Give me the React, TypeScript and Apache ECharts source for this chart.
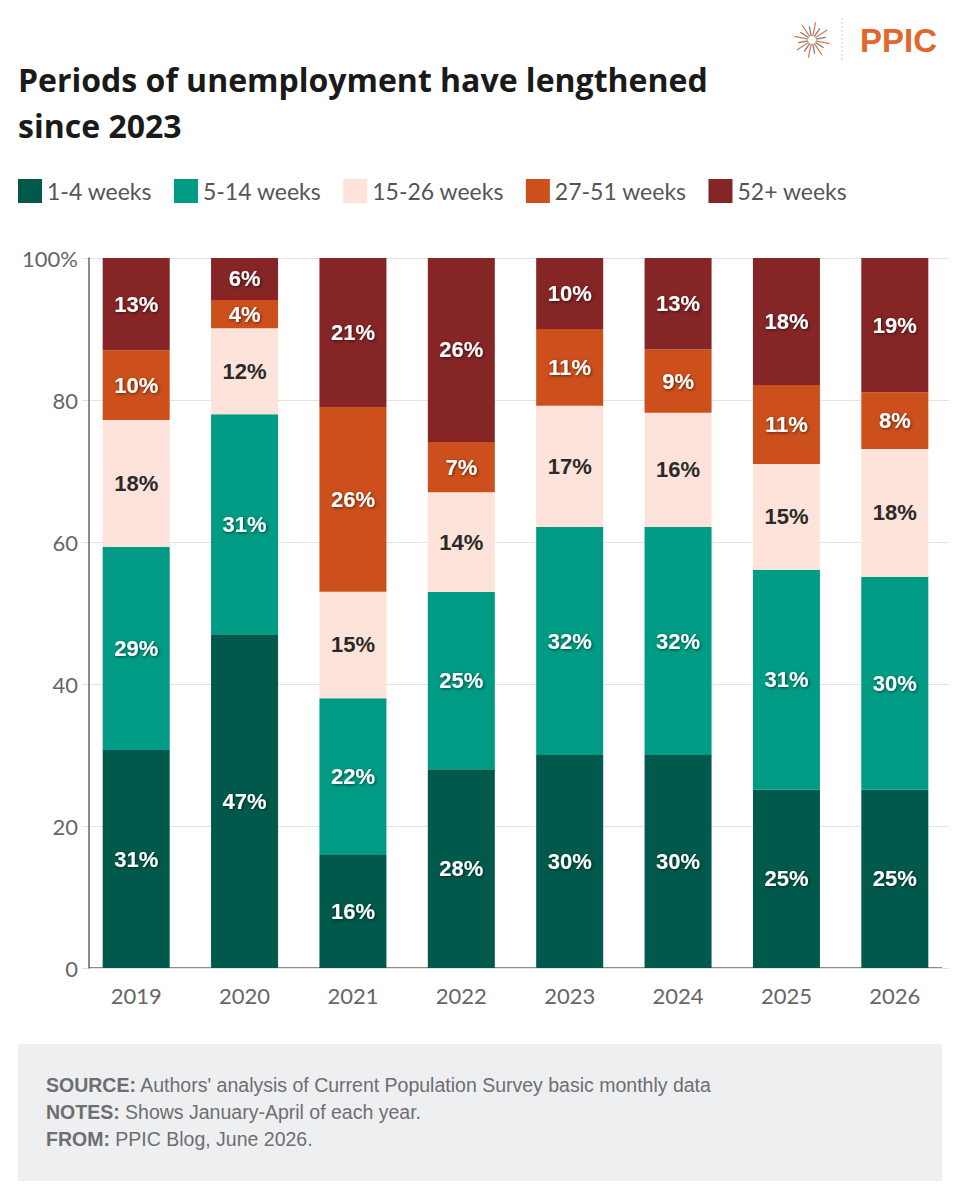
import React, { useEffect, useRef } from "react";
import * as echarts from "echarts";

const years = ["2019", "2020", "2021", "2022", "2023", "2024", "2025", "2026"];
const seriesNames = ["1-4 weeks", "5-14 weeks", "15-26 weeks", "27-51 weeks", "52+ weeks"];
const weeks1to4 = [30.7, 47.0, 15.9, 28.0, 30.0, 30.0, 25.1, 25.1];
const weeks5to14 = [28.6, 31.0, 22.1, 25.0, 32.1, 32.1, 31.0, 30.0];
const weeks15to26 = [17.9, 12.1, 15.0, 14.0, 17.1, 16.1, 14.9, 18.0];
const weeks27to51 = [9.8, 4.0, 26.0, 7.1, 10.8, 8.9, 11.1, 8.0];
const weeks52plus = [13.0, 5.9, 21.0, 25.9, 10.0, 13.0, 17.9, 18.9];
const yTicks = [0, 20, 40, 60, 80, 100];

const colors = ["#00594a", "#009b84", "#fde3da", "#cc4f1c", "#852525"];
const labelColors = ["#ffffff", "#ffffff", "#2a2a2a", "#ffffff", "#ffffff"];

export default function App() {
  const ref = useRef<HTMLDivElement>(null);
  useEffect(() => {
    document.body.style.margin = "0";
    const chart = echarts.init(ref.current!, undefined, { renderer: "svg" });
    const values = [weeks1to4, weeks5to14, weeks15to26, weeks27to51, weeks52plus];
    const rays: any[] = [];
    for (let i = 0; i < 16; i++) {
      const a = (i * Math.PI) / 8 + 0.2;
      const r1 = 4;
      const r2 = i % 2 === 0 ? 18 : 14;
      rays.push({
        type: "line",
        shape: {
          x1: 812 + r1 * Math.cos(a),
          y1: 40 + r1 * Math.sin(a),
          x2: 812 + r2 * Math.cos(a),
          y2: 40 + r2 * Math.sin(a),
        },
        style: { stroke: i % 2 === 0 ? "#e8793f" : "#6f7f96", lineWidth: 1.3 },
      });
    }
    chart.setOption({
      animation: false,
      backgroundColor: "#ffffff",
      grid: { left: 82, right: 11, top: 258, bottom: 232, containLabel: false },
      legend: {
        left: 18,
        top: 179,
        padding: 0,
        itemWidth: 24,
        itemHeight: 24,
        itemGap: 22,
        icon: "rect",
        textStyle: { fontFamily: "Lato", fontSize: 23, color: "#555555" },
        data: seriesNames,
      },
      xAxis: {
        type: "category",
        data: years,
        axisLine: { show: false },
        axisTick: { show: false },
        axisLabel: { fontFamily: "Lato", fontSize: 22, color: "#666666", margin: 16 },
      },
      yAxis: {
        type: "value",
        min: 0,
        max: 100,
        interval: 20,
        offset: -7,
        axisLine: { show: true, lineStyle: { color: "#666666", width: 1.5 } },
        axisTick: { show: false },
        splitLine: { lineStyle: { color: "#e3e3e3", width: 1 } },
        axisLabel: {
          fontFamily: "Lato",
          fontSize: 22,
          color: "#666666",
          margin: 11,
          customValues: yTicks,
          formatter: (v: number) => (v === 100 ? "100%" : String(v)),
        },
      },
      series: seriesNames.map((name, i) => ({
        name,
        type: "bar",
        stack: "total",
        barWidth: 67,
        data: values[i],
        itemStyle: { color: colors[i] },
        label: {
          show: true,
          position: "inside",
          formatter: (p: any) => Math.round(p.value) + "%",
          fontFamily: "Liberation Sans",
          fontWeight: "bold",
          fontSize: 22,
          color: labelColors[i],
          textShadowColor: i === 2 ? "transparent" : "rgba(0,0,0,0.55)",
          textShadowBlur: i === 2 ? 0 : 3,
          textShadowOffsetX: 1,
          textShadowOffsetY: 1,
        },
      })),
      graphic: [
        {
          type: "text",
          left: 18,
          top: 56,
          style: {
            text: "Periods of unemployment have lengthened\nsince 2023",
            fontFamily: "Open Sans",
            fontWeight: "bold",
            fontSize: 32,
            lineHeight: 46,
            fill: "#1a1a1a",
          },
        },
        { type: "group", children: rays },
        {
          type: "line",
          shape: { x1: 842, y1: 18, x2: 842, y2: 62 },
          style: { stroke: "#c8c8c8", lineWidth: 1, lineDash: [2, 2] },
        },
        {
          type: "text",
          left: 860,
          top: 24,
          style: {
            text: "PPIC",
            fontFamily: "Liberation Sans",
            fontWeight: "bold",
            fontSize: 33,
            fill: "#e2672c",
          },
        },
        {
          type: "line",
          shape: { x1: 89, y1: 968, x2: 942, y2: 968 },
          style: { stroke: "#666666", lineWidth: 1.5 },
        },
        {
          type: "rect",
          shape: { x: 18, y: 1044, width: 924, height: 137 },
          style: { fill: "#eeeff1" },
        },
        {
          type: "text",
          left: 46,
          top: 1071,
          style: {
            text: "{b|SOURCE:} Authors' analysis of Current Population Survey basic monthly data\n{b|NOTES:} Shows January-April of each year.\n{b|FROM:} PPIC Blog, June 2026.",
            fontFamily: "Liberation Sans",
            fontSize: 19.5,
            lineHeight: 27,
            fill: "#6d6e71",
            rich: {
              b: { fontFamily: "Liberation Sans", fontWeight: "bold", fontSize: 19.5, lineHeight: 27, fill: "#6d6e71" },
            },
          },
        },
      ],
    });
    return () => chart.dispose();
  }, []);
  return <div ref={ref} style={{ width: 960, height: 1200 }} />;
}
